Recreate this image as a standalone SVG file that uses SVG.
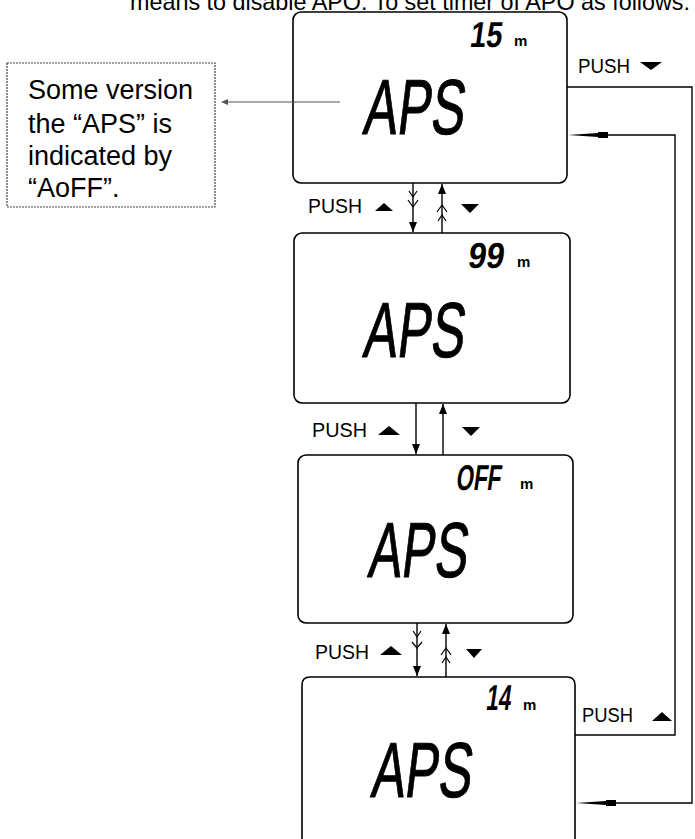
<svg xmlns="http://www.w3.org/2000/svg" width="695" height="839" viewBox="0 0 695 839">
<style>
.box{fill:none;stroke:#000;stroke-width:1.6}
.big{font-family:'Liberation Sans',Arial,sans-serif;font-size:78px;fill:#000;stroke:#000;stroke-width:1}
.dig{font-family:'Liberation Sans',Arial,sans-serif;font-size:36px;font-weight:bold;fill:#000}
.unit{font-family:'Liberation Sans',Arial,sans-serif;font-size:15px;font-weight:bold;fill:#000}
.push{font-family:'Liberation Sans',Arial,sans-serif;font-size:20px;fill:#000}
.note{font-family:'Liberation Sans',Arial,sans-serif;font-size:27px;fill:#000}
.conn{fill:none;stroke:#000;stroke-width:1.4}
.deco{fill:none;stroke:#000;stroke-width:1.2}
.tri{fill:#000}
</style>
<defs>
<marker id="ah" markerUnits="userSpaceOnUse" markerWidth="10" markerHeight="8" refX="10" refY="4" orient="auto">
<path d="M0,0 L10,4 L0,8 z" fill="#000"/>
</marker>
</defs>
<rect width="695" height="839" fill="#fff"/>

<text x="130" y="10" font-family="'Liberation Sans',Arial,sans-serif" font-size="24" textLength="560" lengthAdjust="spacingAndGlyphs">means to disable APO. To set timer of APO as follows:</text>

<g id="note">
<rect x="7" y="63" width="208" height="144" fill="none" stroke="#444" stroke-width="1.2" stroke-dasharray="2 1"/>
<text class="note" x="28" y="99">Some version</text>
<text class="note" x="28" y="133">the “APS” is</text>
<text class="note" x="28" y="165">indicated by</text>
<text class="note" x="28" y="197">“AoFF”.</text>
</g>

<g id="box1">
<rect class="box" x="293" y="12" width="274" height="171" rx="8"/>
<text class="big" transform="translate(362,134) skewX(-7)" textLength="101" lengthAdjust="spacingAndGlyphs">APS</text>
<text class="dig" transform="translate(501,47) skewX(-8) scale(0.8,1)" text-anchor="end">15</text>
<text class="unit" x="514" y="46">m</text>
</g>

<g id="box2">
<rect class="box" x="294" y="233" width="276" height="170" rx="8"/>
<text class="big" transform="translate(362,357) skewX(-7)" textLength="101" lengthAdjust="spacingAndGlyphs">APS</text>
<text class="dig" transform="translate(503,268) skewX(-8) scale(0.9,1)" text-anchor="end">99</text>
<text class="unit" x="517" y="267">m</text>
</g>

<g id="box3">
<rect class="box" x="298" y="455" width="275" height="168" rx="8"/>
<text class="big" transform="translate(367,577) skewX(-7)" textLength="99" lengthAdjust="spacingAndGlyphs">APS</text>
<text class="dig" transform="translate(500,490) skewX(-8) scale(0.62,1)" text-anchor="end">OFF</text>
<text class="unit" x="520" y="489">m</text>
</g>

<g id="box4">
<path class="box" d="M302,845 V685 Q302,677 310,677 H567 Q575,677 575,685 V845"/>
<text class="big" transform="translate(370,797) skewX(-7)" textLength="100" lengthAdjust="spacingAndGlyphs">APS</text>
<text class="dig" transform="translate(510,710) skewX(-8) scale(0.62,1)" text-anchor="end">14</text>
<text class="unit" x="523" y="710">m</text>
</g>

<g id="connectors">
<path d="M224,102 H340" stroke="#555" stroke-width="1" fill="none"/>
<path d="M221,102 L228,99 L228,105 z" fill="#555"/>

<path class="conn" d="M413,183 V232" marker-end="url(#ah)"/>
<path class="deco" d="M409,191 L413,197 L417,191 M408,200 L413,207 L418,200"/>
<path class="conn" d="M442,233 V184" marker-end="url(#ah)"/>
<path class="deco" d="M437,212 L442,205 L447,212 M438,221 L442,215 L446,221"/>
<text class="push" x="308" y="213" textLength="54" lengthAdjust="spacingAndGlyphs">PUSH</text>
<polygon class="tri" points="375,211 384,203 393,211"/>
<polygon class="tri" points="461,204 479,204 470,213"/>

<path class="conn" d="M416,403 V454" marker-end="url(#ah)"/>
<path class="conn" d="M443,455 V404" marker-end="url(#ah)"/>
<text class="push" x="312" y="437" textLength="55" lengthAdjust="spacingAndGlyphs">PUSH</text>
<polygon class="tri" points="378,435 389,426 400,435"/>
<polygon class="tri" points="462,427 480,427 471,436"/>

<path class="conn" d="M417,623 V676" marker-end="url(#ah)"/>
<path class="deco" d="M413,631 L417,637 L421,631 M412,642 L417,648 L422,642"/>
<path class="conn" d="M446,677 V624" marker-end="url(#ah)"/>
<path class="deco" d="M441,655 L446,648 L451,655 M442,663 L446,657 L450,663"/>
<text class="push" x="315" y="659" textLength="54" lengthAdjust="spacingAndGlyphs">PUSH</text>
<polygon class="tri" points="380,655 391,646 402,655"/>
<polygon class="tri" points="466,649 482,649 474,658"/>

<path class="conn" d="M567,87 H692 V803 H600"/>
<path class="tri" d="M576,803 L606,801 L606,800 L616,800 L616,806 L606,806 L606,805 z"/>
<text class="push" x="578" y="73" font-size="18" textLength="52" lengthAdjust="spacingAndGlyphs">PUSH</text>
<polygon class="tri" points="640,62 662,62 651,70"/>

<path class="conn" d="M575,735 H675 V135 H600"/>
<path class="tri" d="M568,135 L598,133 L598,132 L608,132 L608,138 L598,138 L598,137 z"/>
<text class="push" x="582" y="722" font-size="18" textLength="51" lengthAdjust="spacingAndGlyphs">PUSH</text>
<polygon class="tri" points="652,721 662,712 672,721"/>
</g>
</svg>
